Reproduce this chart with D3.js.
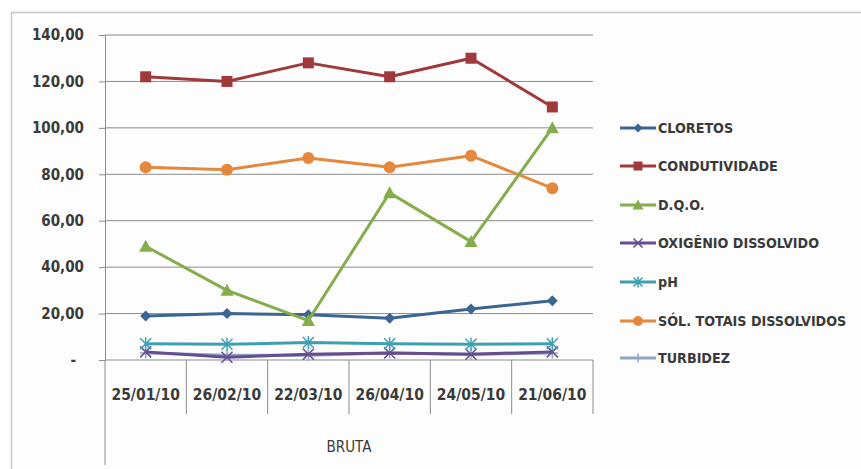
<!DOCTYPE html>
<html><head><meta charset="utf-8">
<script src="https://cdn.jsdelivr.net/npm/d3@7"></script>
<style>
body{margin:0;background:#fff;}
text{font-family:"DejaVu Sans Condensed","Liberation Sans Narrow","Liberation Sans",sans-serif;fill:#3a3a3a;}
</style></head>
<body><svg id="c" width="861" height="469"></svg>
<script>
const categories = ["25/01/10","26/02/10","22/03/10","26/04/10","24/05/10","21/06/10"];
const groupLabel = "BRUTA";
const seriesNames = ["CLORETOS","CONDUTIVIDADE","D.Q.O.","OXIGÊNIO DISSOLVIDO","pH","SÓL. TOTAIS DISSOLVIDOS","TURBIDEZ"];
const cloretos = [19, 20, 19.5, 18, 22, 25.5];
const condutividade = [122, 120, 128, 122, 130, 109];
const dqo = [49, 30, 17, 72, 51, 100];
const oxigenio = [3.5, 1.2, 2.5, 3, 2.5, 3.5];
const ph = [7.0, 6.8, 7.5, 7.0, 6.8, 7.0];
const solidos = [83, 82, 87, 83, 88, 74];
const turbidez = [3, 2, 2, 3, 2.5, 3];
const yTicks = [0,20,40,60,80,100,120,140];

const colors = ["#3b6592","#a0393b","#86ad4c","#674d90","#3e9fb3","#e4883d","#8ea6c6"];
const markers = ["diamond","square","triangle","x","star","circle","plus"];
const seriesData = [cloretos, condutividade, dqo, oxigenio, ph, solidos, turbidez];

const svg = d3.select("#c");
svg.append("rect").attr("x",11.5).attr("y",12.5).attr("width",900).attr("height",500)
  .attr("fill","#fdfdfd").attr("stroke","#c8c8c8").attr("stroke-width",1.5);

const L=105, R=593, T=35, B=360;
const x = d3.scaleBand().domain(categories).range([L,R]);
const y = d3.scaleLinear().domain([0,140]).range([B,T]);

svg.append("g").selectAll("line").data(yTicks.filter(d=>d>0)).join("line")
  .attr("x1",L).attr("x2",R).attr("y1",d=>y(d)).attr("y2",d=>y(d))
  .attr("stroke","#8c8c8c").attr("stroke-width",1);

const yAxis = d3.axisLeft(y).tickValues(yTicks).tickSize(6).tickPadding(15)
  .tickFormat(d=> d===0 ? "-" : d3.format(".2f")(d).replace(".",","));
const gy = svg.append("g").attr("transform",`translate(${L},0)`).call(yAxis);
gy.select(".domain").attr("stroke","#8c8c8c");
gy.selectAll(".tick line").attr("stroke","#8c8c8c");
gy.selectAll("text").attr("font-size",15).attr("font-weight","bold").attr("fill","#444")
  .attr("dx", d=> d===0 ? -8 : 0);

svg.append("line").attr("x1",L).attr("x2",R).attr("y1",B).attr("y2",B).attr("stroke","#8c8c8c");
const seps = categories.map((c)=>x(c)).concat([R]);
svg.append("g").selectAll("line").data(seps).join("line")
  .attr("x1",d=>d).attr("x2",d=>d).attr("y1",B).attr("y2",(d,i)=> i===0?465:414)
  .attr("stroke","#8c8c8c");
svg.append("g").selectAll("text").data(categories).join("text")
  .attr("x",d=>x(d)+x.bandwidth()/2).attr("y",400).attr("text-anchor","middle")
  .attr("font-size",15.5).attr("font-weight","bold").attr("fill","#444").text(d=>d);
svg.append("text").attr("x",(L+R)/2).attr("y",452).attr("text-anchor","middle")
  .attr("font-size",15).attr("fill","#444").text(groupLabel);

function drawMarker(g, type, color, cx, cy, s){
  if(type==="diamond"){
    g.append("path").attr("d",`M${cx},${cy-s}L${cx+s},${cy}L${cx},${cy+s}L${cx-s},${cy}Z`).attr("fill",color);
  } else if(type==="square"){
    g.append("rect").attr("x",cx-s).attr("y",cy-s).attr("width",2*s).attr("height",2*s).attr("fill",color);
  } else if(type==="triangle"){
    g.append("path").attr("d",`M${cx},${cy-s-1}L${cx+s+1},${cy+s}L${cx-s-1},${cy+s}Z`).attr("fill",color);
  } else if(type==="circle"){
    g.append("circle").attr("cx",cx).attr("cy",cy).attr("r",s+0.5).attr("fill",color);
  } else if(type==="x"){
    g.append("path").attr("d",`M${cx-s},${cy-s}L${cx+s},${cy+s}M${cx-s},${cy+s}L${cx+s},${cy-s}`).attr("stroke",color).attr("stroke-width",1.5);
  } else if(type==="star"){
    g.append("path").attr("d",`M${cx-s},${cy-s}L${cx+s},${cy+s}M${cx-s},${cy+s}L${cx+s},${cy-s}M${cx},${cy-s-1}L${cx},${cy+s+1}`).attr("stroke",color).attr("stroke-width",1.5);
  } else if(type==="plus"){
    g.append("path").attr("d",`M${cx-s},${cy}L${cx+s},${cy}M${cx},${cy-s}L${cx},${cy+s}`).attr("stroke",color).attr("stroke-width",1.5);
  }
}

const line = d3.line().x((d,i)=>x(categories[i])+x.bandwidth()/2).y(d=>y(d));
const drawOrder = [6,3,4,0,5,2,1];
drawOrder.forEach(si=>{
  const g = svg.append("g");
  g.append("path").datum(seriesData[si]).attr("d",line).attr("fill","none")
    .attr("stroke",colors[si]).attr("stroke-width",3).attr("stroke-linejoin","round");
  seriesData[si].forEach((v,i)=>drawMarker(g, markers[si], colors[si], x(categories[i])+x.bandwidth()/2, y(v), 5.5));
});

const legY = [128,166,205,243,282,321,358];
seriesNames.forEach((n,i)=>{
  const g = svg.append("g");
  g.append("line").attr("x1",620).attr("x2",656).attr("y1",legY[i]).attr("y2",legY[i])
    .attr("stroke",colors[i]).attr("stroke-width",3);
  drawMarker(g, markers[i], colors[i], 638, legY[i], 4.5);
  g.append("text").attr("x",658).attr("y",legY[i]+5).attr("font-size",14.2).attr("font-weight","bold")
    .attr("fill","#3a3a3a").text(n);
});
</script></body></html>
